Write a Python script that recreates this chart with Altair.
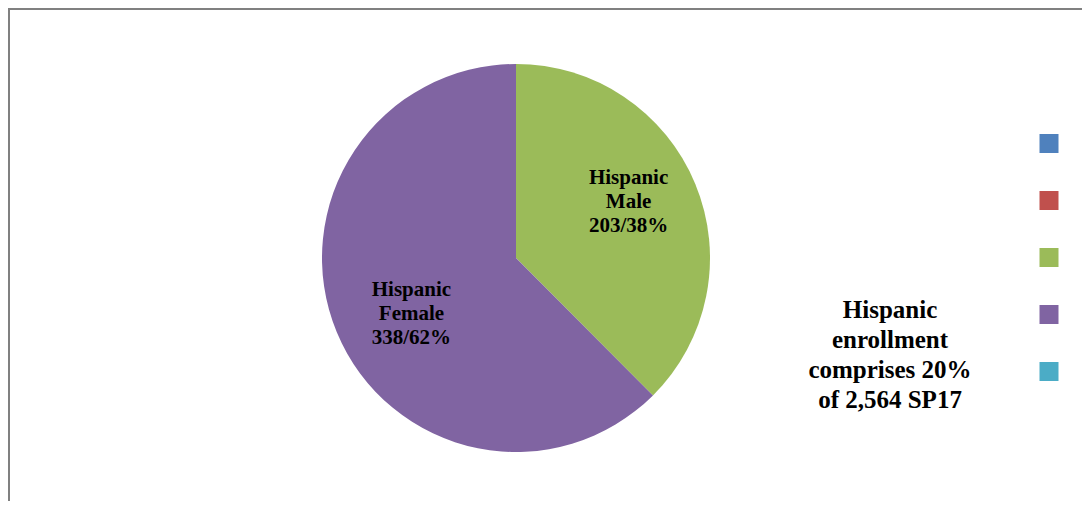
import math
import altair as alt
import pandas as pd

# ---- data ----
slice_names = ["Hispanic Male", "Hispanic Female"]
slice_counts = [203, 338]
slice_pcts = [38, 62]
legend_keys = ["Series 1", "Series 2", "Hispanic Male", "Hispanic Female", "Series 5"]
legend_colors = ["#4F81BD", "#C0504D", "#9BBB59", "#8064A2", "#4BACC6"]
note_lines = ["Hispanic", "enrollment", "comprises 20%", "of 2,564 SP17"]

# ---- layout ----
W, H = 1074, 493
CX, CY, R = 508, 250, 194
FONT = "Liberation Serif"
LBL_SIZE, LBL_LH = 21, 24

pie_df = pd.DataFrame({
    "key": slice_names,
    "count": slice_counts,
    "pct": slice_pcts,
    "order": list(range(len(slice_names))),
})
pie_df["label"] = [
    n.replace(" ", "\n") + f"\n{c}/{p}%"
    for n, c, p in zip(slice_names, slice_counts, slice_pcts)
]
legend_df = pd.DataFrame({"key": legend_keys})
note_df = pd.DataFrame({"text": ["\n".join(note_lines)]})
frame_df = pd.DataFrame({"k": [0]})

color_scale = alt.Scale(domain=legend_keys, range=legend_colors)

frame_left = alt.Chart(frame_df).mark_rule(color="#808080", strokeWidth=2).encode(
    x=alt.value(1), y=alt.value(0), y2=alt.value(H)
)
frame_top = alt.Chart(frame_df).mark_rule(color="#808080", strokeWidth=2).encode(
    x=alt.value(0), x2=alt.value(W), y=alt.value(1)
)

arc = alt.Chart(pie_df).mark_arc(outerRadius=R).encode(
    theta=alt.Theta("count:Q", stack=True),
    color=alt.Color("key:N", scale=color_scale, legend=None),
    order=alt.Order("order:Q"),
    x=alt.value(CX),
    y=alt.value(CY),
)

labels = alt.Chart(pie_df).mark_text(
    radius=122, thetaOffset=2 * math.pi - 0.082, dy=-LBL_LH, dx=4,
    font=FONT, fontSize=LBL_SIZE, fontWeight="bold", lineBreak="\n",
    lineHeight=LBL_LH, align="center", baseline="middle", color="black",
).encode(
    theta=alt.Theta("count:Q", stack=True),
    detail=alt.Detail("key:N"),
    order=alt.Order("order:Q"),
    text="label:N",
    x=alt.value(CX),
    y=alt.value(CY),
)

note = alt.Chart(note_df).mark_text(
    font=FONT, fontSize=25, fontWeight="bold", lineBreak="\n", lineHeight=30,
    align="center", baseline="alphabetic", color="black",
).encode(text="text:N", x=alt.value(882), y=alt.value(310))

legend = alt.Chart(legend_df).mark_square(size=361, opacity=1).encode(
    x=alt.value(1041),
    y=alt.Y("key:N", scale=alt.Scale(type="point", domain=legend_keys,
                                     range=[135.5, 363.5], padding=0), axis=None),
    color=alt.Color("key:N", scale=color_scale, legend=None),
)

chart = alt.layer(frame_left, frame_top, arc, labels, note, legend).properties(
    width=W, height=H, autosize=alt.AutoSizeParams(type="none"), padding=0,
    background="white",
).configure_view(stroke=None)

chart.save("out.html", embed_options={"renderer": "svg", "actions": False})
